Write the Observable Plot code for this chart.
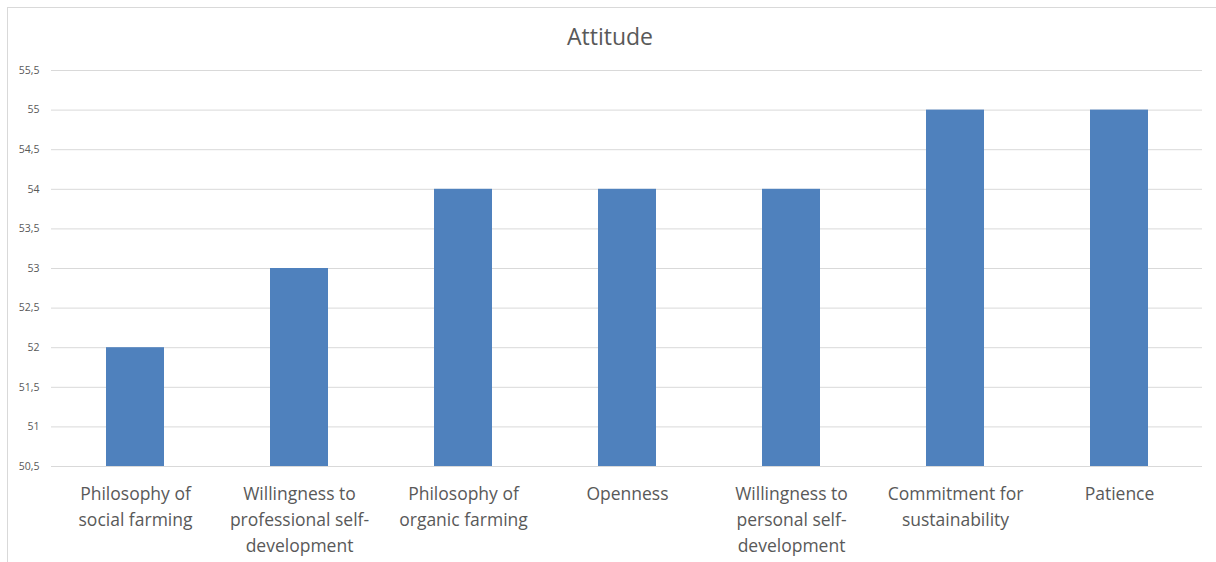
<!DOCTYPE html>
<html>
<head>
<meta charset="utf-8">
<script src="https://cdn.jsdelivr.net/npm/d3@7"></script>
<script src="https://cdn.jsdelivr.net/npm/@observablehq/plot@0.6"></script>
<style>
  html, body { margin: 0; padding: 0; background: #fff; }
  #wrap { position: relative; width: 1216px; height: 562px; overflow: hidden; font-family: "Open Sans", Lato, sans-serif; }
  #frame { position: absolute; left: 7px; top: 7px; width: 1220px; height: 600px; border-left: 1px solid #d9d9d9; border-top: 1px solid #d9d9d9; box-sizing: border-box; }
  #title { position: absolute; left: 0; width: 1220px; top: 21px; text-align: center; font-size: 23px; color: #595959; line-height: 30px; }
  #chart { position: absolute; left: 0; top: 0; }
</style>
</head>
<body>
<div id="wrap">
  <div id="frame"></div>
  <div id="chart"></div>
  <div id="title">Attitude</div>
</div>
<script>
const categories = [
  "Philosophy of social farming",
  "Willingness to professional self-development",
  "Philosophy of organic farming",
  "Openness",
  "Willingness to personal self-development",
  "Commitment for sustainability",
  "Patience"
];
const tickLabels = [
  "Philosophy of\nsocial farming",
  "Willingness to\nprofessional self-\ndevelopment",
  "Philosophy of\norganic farming",
  "Openness",
  "Willingness to\npersonal self-\ndevelopment",
  "Commitment for\nsustainability",
  "Patience"
];
const values = [52, 53, 54, 54, 54, 55, 55];
const yTicks = [50.5, 51, 51.5, 52, 52.5, 53, 53.5, 54, 54.5, 55, 55.5];
const yBase = 50.5;

const data = categories.map((c, i) => ({category: c, value: values[i], label: tickLabels[i]}));
const labelOf = new Map(data.map(d => [d.category, d.label]));

const plot = Plot.plot({
  width: 1216,
  height: 562,
  marginTop: 70,
  marginBottom: 96,
  marginLeft: 51,
  marginRight: 14,
  style: {fontFamily: "'Open Sans', Lato, sans-serif", background: "transparent", overflow: "visible"},
  x: {domain: categories, paddingInner: 0.647, paddingOuter: 0.3235, align: 0.5},
  y: {domain: [50.5, 55.5]},
  marks: [
    Plot.gridY(yTicks, {stroke: "#d9d9d9", strokeOpacity: 1, strokeWidth: 1}),
    Plot.rectY(data, {x: "category", y1: yBase, y2: "value", fill: "#4f81bd"}),
    Plot.axisY(yTicks, {
      tickSize: 0, tickPadding: 12, fontSize: 10.5, fill: "#595959",
      tickFormat: d => String(d).replace(".", ","), label: null
    }),
    Plot.axisX({
      tickSize: 0, tickPadding: 15, fontSize: 17.5, fill: "#595959", lineHeight: 1.49,
      tickFormat: d => labelOf.get(d), label: null
    })
  ]
});
document.getElementById("chart").appendChild(plot);
</script>
</body>
</html>
